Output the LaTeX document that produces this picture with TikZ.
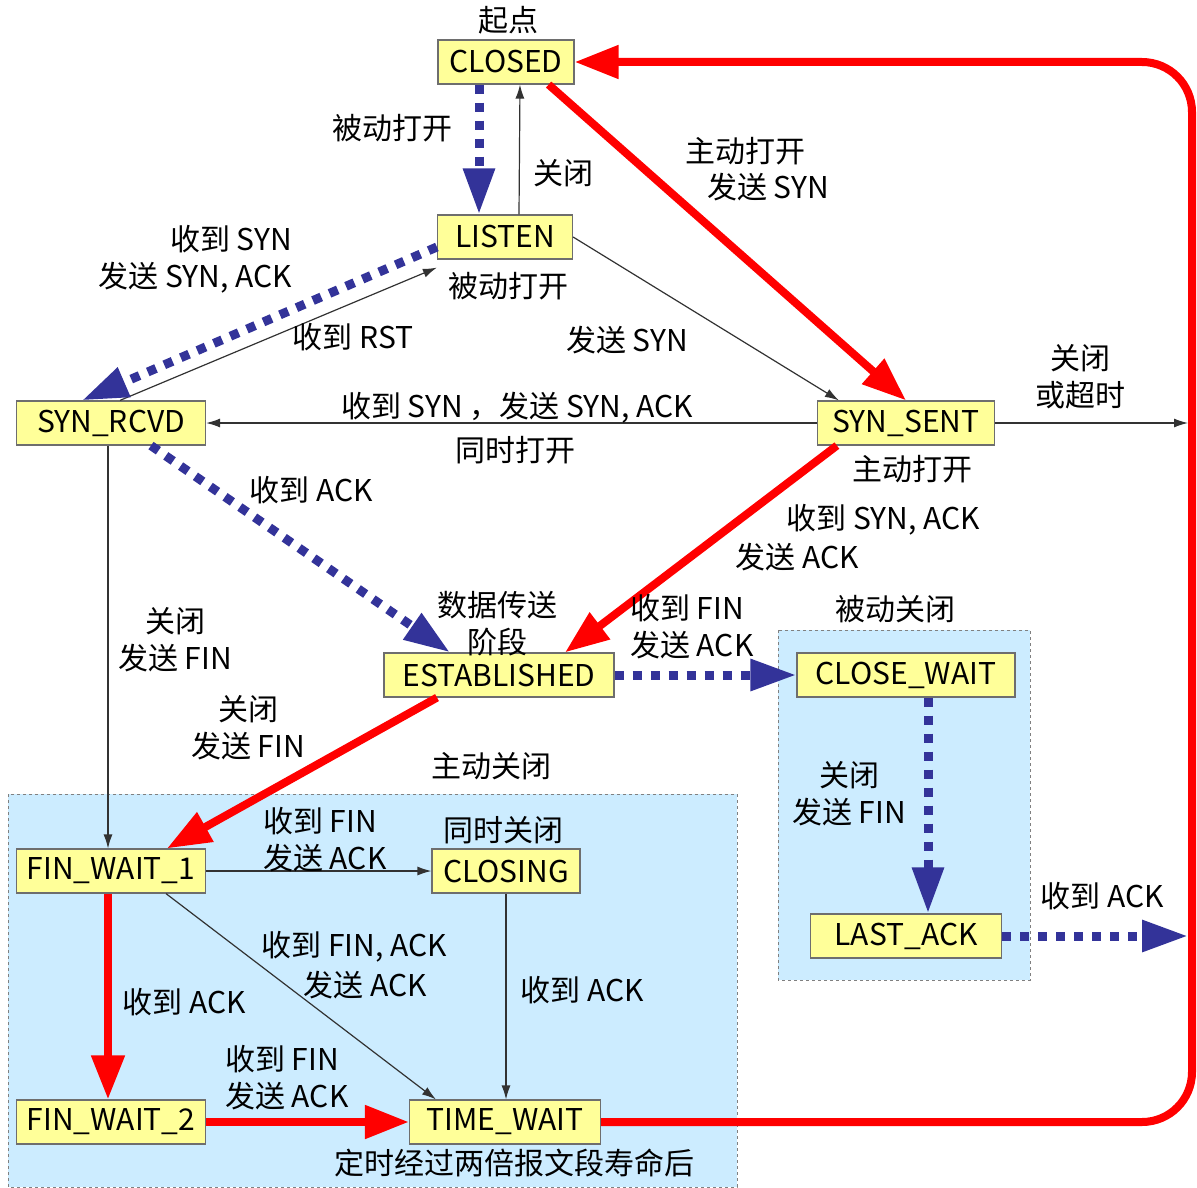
\documentclass[tikz,border=0pt]{standalone}
\usepackage{fontspec}
\setmainfont{Noto Sans CJK SC}
\usepackage{tikz}
\usetikzlibrary{arrows.meta}
\definecolor{statefill}{RGB}{255, 255, 153}
\definecolor{stateline}{RGB}{110, 110, 110}
\definecolor{phasefill}{RGB}{204, 236, 255}
\definecolor{passblue}{RGB}{51, 51, 153}
\definecolor{actred}{RGB}{255, 0, 0}
\definecolor{thinline}{RGB}{50, 50, 50}

\begin{document}
\begin{tikzpicture}[x=1pt, y=-1pt,
		state/.style={draw=stateline, line width=1.2pt, fill=statefill, minimum height=44pt, inner sep=0pt, font=\fontsize{30}{36}\selectfont},
		lbl/.style={inner sep=0pt, align=center, font=\fontsize{30}{37}\selectfont},
		phase/.style={fill=phasefill, draw=gray, dashed, line width=1pt},
		thin/.style={draw=thinline, line width=1.2pt, -{Latex[length=14pt, width=9pt]}},
		passive/.style={draw=passblue, line width=9pt, dash pattern=on 9pt off 9pt, -{Triangle[length=46pt, width=30pt]}},
		active/.style={draw=actred, line width=8pt, -{Triangle[length=44pt, width=32pt]}}]
			\useasboundingbox (0,0) rectangle (1197,1188);

			% closing phases
			\draw[phase] (8,794) rectangle (737,1187);
			\draw[phase] (778,630) rectangle (1030,980);

			% states
			\node[state, minimum width=136pt] (closed) at (506,62) {CLOSED};
			\node[state, minimum width=135pt] (listen) at (505,237) {LISTEN};
			\node[state, minimum width=189pt] (synrcvd) at (111,423) {SYN\_RCVD};
			\node[state, minimum width=177pt] (synsent) at (906,423) {SYN\_SENT};
			\node[state, minimum width=230pt] (estab) at (499,675) {ESTABLISHED};
			\node[state, minimum width=218pt] (closewait) at (906,675) {CLOSE\_WAIT};
			\node[state, minimum width=191pt] (lastack) at (906,936) {LAST\_ACK};
			\node[state, minimum width=189pt] (finwaitA) at (111,871) {FIN\_WAIT\_1};
			\node[state, minimum width=148pt] (closing) at (506,871) {CLOSING};
			\node[state, minimum width=189pt] (finwaitB) at (111,1122) {FIN\_WAIT\_2};
			\node[state, minimum width=191pt] (timewait) at (505,1122) {TIME\_WAIT};

			\coordinate (edgeA) at (1188,423);
			\coordinate (edgeB) at (1188,936);
			\coordinate (loopB) at (1192,1122);
			\coordinate (loopT) at (1192,62);

			% thin transitions
			\draw[thin] ([xshift=14pt]listen.north) -- ([xshift=14pt]closed.south);
			\draw[thin] (listen.east) -- ([xshift=22pt]synsent.north west);
			\draw[thin] ([xshift=9pt]synrcvd.north) -- ([yshift=-8pt]listen.south west);
			\draw[thin] (synsent.west) -- (synrcvd.east);
			\draw[thin] (synsent.east) -- (edgeA);
			\draw[thin] ([xshift=-3pt]synrcvd.south) -- ([xshift=-3pt]finwaitA.north);
			\draw[thin] (finwaitA.east) -- (closing.west);
			\draw[thin] ([xshift=55pt]finwaitA.south) -- ([xshift=27pt]timewait.north west);
			\draw[thin] (closing.south) -- (closing.south |- timewait.north);

			% server side (blue)
			\draw[passive] ([xshift=-27pt]closed.south) -- ([xshift=-26pt]listen.north);
			\draw[passive] ([yshift=-10pt]listen.west) -- ([xshift=-29pt]synrcvd.north);
			\draw[passive] ([xshift=40pt]synrcvd.south) -- ([xshift=-49pt]estab.north);
			\draw[passive] (estab.east) -- (closewait.west);
			\draw[passive] ([xshift=22pt]closewait.south) -- ([xshift=22pt]lastack.north);
			\draw[passive] (lastack.east) -- (edgeB);

			% client side (red)
			\draw[active] ([xshift=-26pt]closed.south east) -- (synsent.north);
			\draw[active] ([xshift=20pt]synsent.south west) -- ([xshift=66pt]estab.north);
			\draw[active] ([xshift=-62pt]estab.south) -- ([xshift=56pt]finwaitA.north);
			\draw[active] ([xshift=-3pt]finwaitA.south) -- ([xshift=-3pt]finwaitB.north);
			\draw[active] (finwaitB.east) -- (timewait.west);
			\draw[active, rounded corners=50pt] (timewait.east) -- (loopB) -- (loopT) -- (closed.east);

			% labels
			\node[lbl] (lStart) at (508,20) {起点};
			\node[lbl] (lPassOpenA) at (392,128) {被动打开};
			\node[lbl] (lCloseA) at (563,173) {关闭};
			\node[lbl] (lActOpenA) at (745,151) {主动打开};
			\node[lbl] (lSendSynA) at (768,187) {发送 SYN};
			\node[lbl, align=right, anchor=east] (lRecvSyn) at (292,259) {收到 SYN\\发送 SYN, ACK};
			\node[lbl] (lPassOpenB) at (508,286) {被动打开};
			\node[lbl] (lRecvRst) at (353,337) {收到 RST};
			\node[lbl] (lSendSynB) at (627,340) {发送 SYN};
			\node[lbl] (lCloseTimeout) at (1080,377) {关闭\\或超时};
			\node[lbl] (lSimOpenA) at (517,408) {收到 SYN ，发送 SYN, ACK};
			\node[lbl] (lSimOpenB) at (515,450) {同时打开};
			\node[lbl] (lActOpenB) at (912,469) {主动打开};
			\node[lbl] (lRecvSynAck) at (883,520) {收到 SYN, ACK};
			\node[lbl] (lSendAckA) at (797,557) {发送 ACK};
			\node[lbl] (lRecvAckA) at (311,490) {收到 ACK};
			\node[lbl] (lData) at (497,624) {数据传送\\阶段};
			\node[lbl, align=left, anchor=west] (lRecvFinA) at (630,627) {收到 FIN\\发送 ACK};
			\node[lbl] (lPassClose) at (895,609) {被动关闭};
			\node[lbl] (lSendFinA) at (175,640) {关闭\\发送 FIN};
			\node[lbl] (lSendFinB) at (248,728) {关闭\\发送 FIN};
			\node[lbl] (lActClose) at (491,766) {主动关闭};
			\node[lbl, align=left, anchor=west] (lRecvFinB) at (263,840) {收到 FIN\\发送 ACK};
			\node[lbl] (lSimClose) at (503,830) {同时关闭};
			\node[lbl] (lRecvAckB) at (184,1002) {收到 ACK};
			\node[lbl] (lRecvFinAck) at (354,947) {收到 FIN, ACK};
			\node[lbl] (lSendAckB) at (365,985) {发送 ACK};
			\node[lbl] (lRecvAckC) at (582,990) {收到 ACK};
			\node[lbl, align=left, anchor=west] (lRecvFinC) at (225,1078) {收到 FIN\\发送 ACK};
			\node[lbl] (lTwoMsl) at (514,1163) {定时经过两倍报文段寿命后};
			\node[lbl] (lSendFinC) at (849,794) {关闭\\发送 FIN};
			\node[lbl] (lRecvAckD) at (1102,896) {收到 ACK};

		\end{tikzpicture}
\end{document}
